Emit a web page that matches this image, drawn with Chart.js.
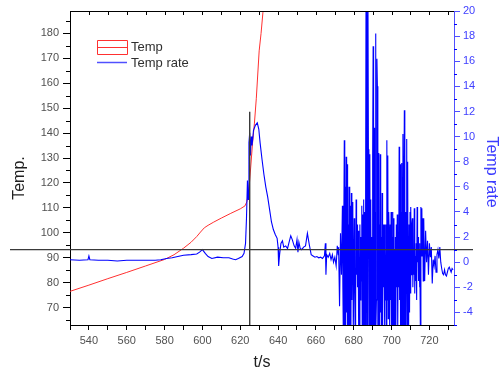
<!DOCTYPE html>
<html>
<head>
<meta charset="utf-8">
<script src="https://cdn.jsdelivr.net/npm/chart.js@4.4.1/dist/chart.umd.min.js"></script>
<style>
html,body{margin:0;padding:0;background:#fff;}
</style>
</head>
<body>
<canvas id="chart" width="500" height="376"></canvas>
<script>
// Temp (left axis)
const tempTime = [530,540,550,560,570,580,585,590,594,597,599,601,603,606,610,615,620,622.5,623.5,624.5,625.5,626.5,627.5,628.5,630,631,632,633.5];
const tempValue = [76.5,79.0,81.6,84.1,86.7,89.3,91.2,93.8,96.2,98.5,100.3,102.0,103.0,104.3,105.9,107.8,109.6,110.8,112.5,116.5,126,136,144,154,173,180,188.5,202];

// Temp rate (right axis)
const rateTime = [
  530,535,539.5,540,540.5,545,550,555,560,565,570,575,578,581,584,587,590,594,597,598.5,
  600,601.5,603,605,608,611,614,616,617.5,619,621,622,622.8,623.3,623.8,624.2,624.6,625,625.4,625.8,
  626.2,626.6,627,628,629,629.8,630.5,631.5,632.5,633.5,634.5,635.5,636.5,637.5,638.5,639.5,640,640.3,640.8,641.5,
  642.3,643,644,645,646,646.7,647.5,648.5,649.3,650,650.5,651,651.7,652.5,653.5,654.5,655.5,656.5,657.5,658.5,
  659.5,660.5,661.5,662.5,663.5,664.5,665,665.3,665.7,666.5,667.3,668,668.7,669.3,670,670.7,671.3,671.8,
  672,672.5,673,673.5,
  674,674.25,674.5,674.75, 675,675.25,675.5,675.75, 676,676.25,676.5,676.75, 677,677.25,677.5,677.75,
  678,678.25,678.5,678.75, 679,679.25,679.5,679.75, 680,680.25,680.5,680.75, 681,681.25,681.5,681.75,
  682,682.25,682.5,682.75, 683,683.25,683.5,683.75, 684,684.25,684.5,684.75, 685,685.25,685.5,685.75,
  686,686.25,686.5,686.75, 687,687.25,687.5,687.75, 688,688.25,688.5,688.75, 689,689.25,689.5,689.75,
  690,690.25,690.5,690.75, 691,691.25,691.5,691.75, 692,692.25,692.5,692.75, 693,693.25,693.5,693.75,
  694,694.25,694.5,694.75, 695,695.25,695.5,695.75, 696,696.25,696.5,696.75, 697,697.25,697.5,697.75,
  698,698.25,698.5,698.75, 699,699.25,699.5,699.75, 700,700.25,700.5,700.75, 701,701.25,701.5,701.75,
  702,702.25,702.5,702.75, 703,703.25,703.5,703.75, 704,704.25,704.5,704.75, 705,705.25,705.5,705.75,
  706,706.25,706.5,706.75, 707,707.25,707.5,707.75, 708,708.25,708.5,708.75, 709,709.25,709.5,709.75,
  710,710.25,710.5,710.75, 711,711.25,711.5,711.75, 712,712.25,712.5,712.75, 713,713.25,713.5,713.75,
  714,714.25,714.5,714.75, 715,715.25,715.5,715.75, 716,716.25,716.5,716.75,
  717,717.5,718,718.5,719,719.5,720,720.5,721,721.5,722,722.5,723,723.5,724,724.5,725,725.5,726,726.5,
  727,727.5,728,728.5,729,729.5,730,730.5,731,731.5,732,732.5
];
const rateValue = [
  0.2,0.15,0.2,0.5,0.2,0.15,0.15,0.1,0.15,0.15,0.15,0.15,0.2,0.3,0.35,0.45,0.55,0.6,0.65,0.8,
  1.0,0.7,0.45,0.3,0.4,0.35,0.35,0.25,0.2,0.3,0.45,0.7,1.5,3.5,6.5,5.0,9.5,10.3,8.5,10.0,
  9.3,9.8,10.5,10.9,11.1,10.6,9.5,8.2,7.0,6.0,5.2,4.2,3.2,2.6,2.2,1.9,1.2,-0.3,0.6,1.5,
  1.7,1.2,1.3,1.1,1.7,2.1,1.8,1.3,1.1,1.8,0.8,1.6,1.1,1.0,1.2,1.3,2.3,1.4,0.6,0.5,
  0.4,0.45,0.35,0.4,0.3,0.5,1.5,-1.0,0.6,0.4,0.7,0.2,0.6,0.0,0.4,-0.3,1.3,0.6,
  1.2,-3.5,2.3,-1.0,
  4.5,-2,-6,3, 9.7,-6,6,-6, 8.4,-4,7.8,-6, 3,-6,6.0,-3,
  -6,4.5,-6,5.5, -3,2,4.8,-6, -6,3.5,-2,-6, -4,5.0,-1,3,
  -2,2.5,-6,1, -6,3.0,-3,2, -1.5,4.5,-6,3.8, -6,5.0,-6,4,
  -6,3,22,-6, 22,-6,22,9, 4,-6,8.6,-6, 5.0,-6,2,-6,
  8.4,17.2,-6,10.7, -6,4,18.2,-6, -3,16.2,14.0,-6, 8.7,-6,3,-6,
  8.6,-4,2,-6, 5.5,-6,3,-2, 3.0,-6,1,-3, 3,-6,9.7,-3,
  8.5,-4.5,4,2.0, -6,3,-3,4, -6,2,4.0,-6, 3.5,-5,1,-6,
  2.0,-6,3,-2, 3.8,-6,2,-2, 9.2,-3,7.8,-6, 4,-6,7.9,-6,
  10.2,-6,5,12.1, -6,4,-6,3, 9.8,-6,8.0,-3, -6,3.0,-4,4,
  -2.5,4.4,-1,3, 3.5,-2,0.5,-1, 4.3,-2.5,0.5,-1.5, 1.5,-3,4.4,0,
  2.0,-1.5,1,-2, 1.5,-6,4.4,0.5, 4.3,0.5,3.5,-1.5,
  3.5,-1.5,2.5,0.0,1.7,-1.0,1.5,0.4,1.2,-1.7,0.2,-0.3,0.5,-0.8,0.6,1.0,0.3,1.2,0.0,-0.5,
  -0.9,-1.0,-0.6,-1.0,-1.1,-0.8,-0.5,-0.4,-0.6,-0.8,-0.5,-0.6
];

// reference lines drawn by the author
const markerRate = 1.0;
const markerTime = 625;
const markerTop = 148.6;

const toPoints = (xs, ys) => xs.map((x, i) => ({x: x, y: ys[i]}));

const tickFont = {family: "Liberation Sans", size: 11};
const textColor = "#505050";
const rateColor = "#0000ff";

// chart area edges in the reference
const areaLeft = 70;
const areaRight = 454;
const areaBottom = 325;

const extras = {
  id: "extras",
  afterDatasetsDraw(chart){
    const ctx = chart.ctx;
    const area = chart.chartArea;
    const xs = chart.scales.x;
    const ys = chart.scales.y;
    const rs = chart.scales.y1;

    ctx.save();

    // reference lines
    ctx.strokeStyle = "#3a3a3a";
    ctx.lineWidth = 1.4;
    const hy = rs.getPixelForValue(markerRate);
    ctx.beginPath();
    ctx.moveTo(area.left - 60, hy);
    ctx.lineTo(area.right + 19, hy);
    ctx.stroke();

    const vx = xs.getPixelForValue(markerTime);
    ctx.beginPath();
    ctx.moveTo(vx, ys.getPixelForValue(markerTop));
    ctx.lineTo(vx, area.bottom);
    ctx.stroke();

    // top ticks, pointing in
    ctx.strokeStyle = "#000";
    ctx.lineWidth = 1;
    xs.ticks.forEach(t => {
      const px = Math.round(xs.getPixelForValue(t.value)) + 0.5;
      ctx.beginPath();
      ctx.moveTo(px, area.top);
      ctx.lineTo(px, area.top + 4);
      ctx.stroke();
    });
    ctx.beginPath();
    ctx.moveTo(area.left, area.top + 0.5);
    ctx.lineTo(area.right, area.top + 0.5);
    ctx.stroke();

    // minor ticks
    ys.ticks.forEach(t => {
      if(t.value % 10 !== 0){
        const py = Math.round(ys.getPixelForValue(t.value)) + 0.5;
        ctx.beginPath();
        ctx.moveTo(area.left - 4, py);
        ctx.lineTo(area.left, py);
        ctx.stroke();
      }
    });
    ctx.strokeStyle = rateColor;
    rs.ticks.forEach(t => {
      if(t.value % 2 !== 0){
        const py = Math.round(rs.getPixelForValue(t.value)) + 0.5;
        ctx.beginPath();
        ctx.moveTo(area.right, py);
        ctx.lineTo(area.right + 3, py);
        ctx.stroke();
      }
    });

    // legend
    ctx.strokeStyle = "#ff3030";
    ctx.beginPath();
    ctx.rect(97.5, 40.5, 30, 14);
    ctx.moveTo(97.5, 47.5);
    ctx.lineTo(127.5, 47.5);
    ctx.stroke();
    ctx.strokeStyle = "#5050ff";
    ctx.lineWidth = 1.5;
    ctx.beginPath();
    ctx.moveTo(97, 62.5);
    ctx.lineTo(127, 62.5);
    ctx.stroke();

    ctx.fillStyle = "#303030";
    ctx.font = "13px 'Liberation Sans'";
    ctx.textBaseline = "middle";
    ctx.textAlign = "left";
    ctx.fillText("Temp", 131, 47);
    ctx.fillText("Temp rate", 131, 63);

    // axis titles
    ctx.font = "16px 'Liberation Sans'";
    ctx.fillStyle = "#202020";
    ctx.textAlign = "center";
    ctx.fillText("t/s", 262, 363);

    ctx.save();
    ctx.translate(20, 178);
    ctx.rotate(-Math.PI / 2);
    ctx.fillText("Temp.", 0, 0);
    ctx.restore();

    ctx.save();
    ctx.translate(491, 172);
    ctx.rotate(Math.PI / 2);
    ctx.fillStyle = "#3c3cff";
    ctx.fillText("Temp rate", 0, 0);
    ctx.restore();

    ctx.restore();
  }
};

new Chart(document.getElementById("chart"), {
  type: "line",
  data: {
    datasets: [
      {
        label: "Temp",
        data: toPoints(tempTime, tempValue),
        yAxisID: "y",
        borderColor: "#ff3030",
        borderWidth: 1,
        pointRadius: 0,
        tension: 0,
        order: 2
      },
      {
        label: "Temp rate",
        data: toPoints(rateTime, rateValue),
        yAxisID: "y1",
        borderColor: rateColor,
        borderWidth: 1.1,
        pointRadius: 0,
        tension: 0,
        order: 1
      }
    ]
  },
  options: {
    responsive: false,
    animation: false,
    events: [],
    layout: {padding: {top: 11, left: 0, right: 0, bottom: 0}},
    plugins: {
      legend: {display: false},
      tooltip: {enabled: false}
    },
    scales: {
      x: {
        type: "linear",
        position: "bottom",
        min: 530,
        max: 733,
        border: {color: "#000"},
        grid: {drawOnChartArea: false, tickLength: 5, color: "#000"},
        ticks: {
          stepSize: 10,
          includeBounds: false,
          autoSkip: false,
          maxRotation: 0,
          padding: 4,
          font: tickFont,
          color: textColor,
          callback: v => v % 20 === 0 ? v : ""
        },
        afterFit: s => { s.height = 376 - areaBottom; }
      },
      y: {
        position: "left",
        min: 63,
        max: 189,
        border: {color: "#000"},
        grid: {
          drawOnChartArea: false,
          tickLength: 7,
          tickColor: c => c.tick && c.tick.value % 10 === 0 ? "#000" : "rgba(0,0,0,0)"
        },
        ticks: {
          stepSize: 5,
          includeBounds: false,
          autoSkip: false,
          padding: 4,
          font: tickFont,
          color: textColor,
          callback: v => v % 10 === 0 ? v : ""
        },
        afterFit: s => { s.width = areaLeft; }
      },
      y1: {
        position: "right",
        min: -5,
        max: 20,
        border: {color: "#5050ff"},
        grid: {
          drawOnChartArea: false,
          tickLength: 6,
          tickColor: c => c.tick && c.tick.value % 2 === 0 ? "#5050ff" : "rgba(0,0,0,0)"
        },
        ticks: {
          stepSize: 1,
          includeBounds: false,
          autoSkip: false,
          padding: 3,
          font: tickFont,
          color: "#4040ff",
          callback: v => v % 2 === 0 ? v : ""
        },
        afterFit: s => { s.width = 500 - areaRight; }
      }
    }
  },
  plugins: [extras]
});
</script>
</body>
</html>
